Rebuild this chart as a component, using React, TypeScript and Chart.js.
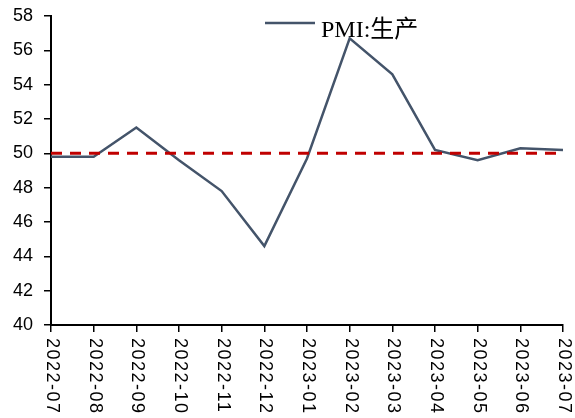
import React, { useEffect, useRef } from "react";
import { Chart, registerables } from "chart.js";

Chart.register(...registerables);

const categories = [
  "2022-07", "2022-08", "2022-09", "2022-10", "2022-11", "2022-12",
  "2023-01", "2023-02", "2023-03", "2023-04", "2023-05", "2023-06", "2023-07",
];
const pmiProduction = [49.8, 49.8, 51.5, 49.6, 47.8, 44.6, 49.7, 56.7, 54.6, 50.2, 49.6, 50.3, 50.2];
const thresholdLine = [50, 50, 50, 50, 50, 50, 50, 50, 50, 50, 50, 50, 50];
const yMin = 40;
const yMax = 58;
const yStep = 2;
const seriesLabel = "PMI:生产";

const LINE_COLOR = "#44546A";
const RED = "#C00000";

const customDraw = {
  id: "customDraw",
  afterDraw(chart: any) {
    const ctx = chart.ctx as CanvasRenderingContext2D;
    const xs = chart.scales.x;
    ctx.save();
    ctx.font = "18px 'Liberation Sans', Arial, sans-serif";
    (ctx as any).letterSpacing = "1.5px";
    ctx.fillStyle = "#000";
    ctx.textAlign = "left";
    ctx.textBaseline = "middle";
    categories.forEach((c, i) => {
      const px = xs.getPixelForValue(i);
      ctx.save();
      ctx.translate(px + 1, xs.top + 13);
      ctx.rotate(Math.PI / 2);
      ctx.fillText(c, 0, 0);
      ctx.restore();
    });
    (ctx as any).letterSpacing = "0px";
    // legend
    ctx.strokeStyle = LINE_COLOR;
    ctx.lineWidth = 2.5;
    ctx.beginPath();
    ctx.moveTo(265, 23);
    ctx.lineTo(315, 23);
    ctx.stroke();
    ctx.font = "24px 'Liberation Serif', 'Noto Sans CJK SC', serif";
    ctx.textBaseline = "alphabetic";
    ctx.fillText(seriesLabel, 321, 37);
    ctx.restore();
  },
};

export default function App() {
  const ref = useRef<HTMLCanvasElement>(null);
  useEffect(() => {
    if (!ref.current) return;
    const chart = new Chart(ref.current, {
      type: "line",
      data: {
        labels: categories,
        datasets: [
          {
            label: "50",
            data: thresholdLine,
            borderColor: RED,
            borderWidth: 3,
            borderDash: [11, 8],
            pointRadius: 0,
            order: 0,
          },
          {
            label: seriesLabel,
            data: pmiProduction,
            borderColor: LINE_COLOR,
            borderWidth: 2.5,
            pointRadius: 0,
            tension: 0,
            order: 1,
          },
        ],
      },
      options: {
        responsive: false,
        animation: false,
        layout: { padding: { top: 16, right: 12, left: 0, bottom: 0 } },
        plugins: { legend: { display: false }, tooltip: { enabled: false } },
        scales: {
          x: {
            type: "category",
            offset: false,
            afterFit: (s: any) => { s.height = 93; s.paddingLeft = 0; s.paddingRight = 0; },
            border: { display: true, color: "#000", width: 2 },
            grid: { display: true, drawOnChartArea: false, drawTicks: true, tickLength: 7, color: "#000", lineWidth: 1.5, offset: false },
            ticks: { color: "rgba(0,0,0,0)", autoSkip: false, maxRotation: 0, minRotation: 0, font: { size: 1 } },
          },
          y: {
            min: yMin,
            max: yMax,
            afterFit: (s: any) => { s.width = 51; s.paddingTop = 0; s.paddingBottom = 0; },
            border: { display: true, color: "#000", width: 2 },
            grid: { display: true, drawOnChartArea: false, drawTicks: true, tickLength: 7, color: "#000", lineWidth: 1.5 },
            ticks: {
              stepSize: yStep,
              color: "#000",
              padding: 11,
              font: { family: "'Liberation Sans', Arial, sans-serif", size: 18 },
            },
          },
        },
      },
      plugins: [customDraw],
    } as any);
    return () => chart.destroy();
  }, []);
  return (
    <div style={{ position: "fixed", left: 0, top: 0, width: 575, height: 418, background: "#fff" }}>
      <canvas ref={ref} width={575} height={418} />
    </div>
  );
}
